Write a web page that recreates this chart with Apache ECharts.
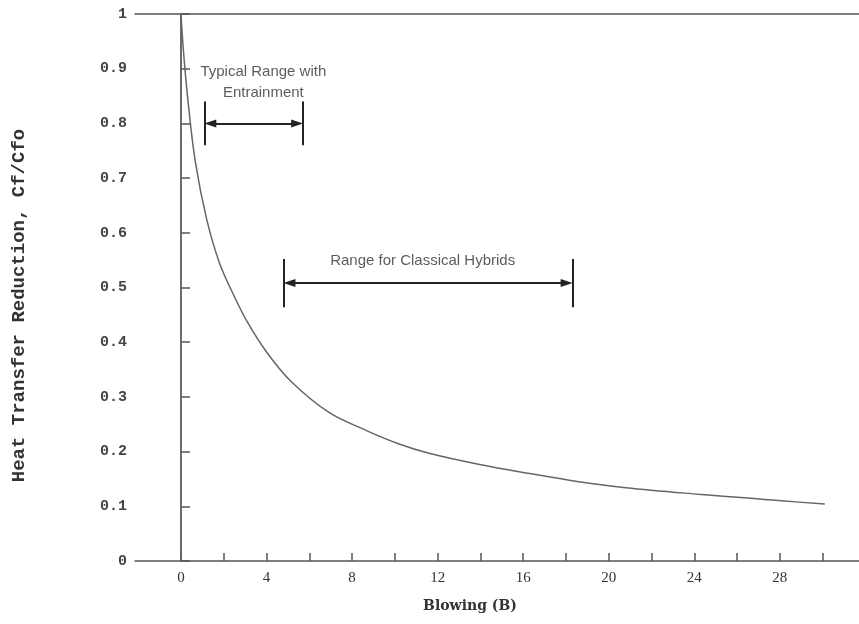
<!DOCTYPE html>
<html>
<head>
<meta charset="utf-8">
<script src="https://cdn.jsdelivr.net/npm/echarts@6/dist/echarts.min.js"></script>
<style>
  html, body { margin: 0; padding: 0; background: #fff; }
  #chart { width: 859px; height: 624px; }
</style>
</head>
<body>
<div id="chart"></div>
<script>
// curve: blowing B vs Cf/Cfo
const blowing = [0, 0.12, 0.33, 0.67, 1.2, 1.8, 2.5, 3.1, 4.0, 5.1, 6.9, 8.7, 10.2, 11.6, 13.9, 16.3, 18.6, 20.8, 24.2, 26.5, 28.1, 30.1];
const cfRatio = [1.0, 0.93, 0.84, 0.73, 0.625, 0.545, 0.483, 0.437, 0.382, 0.33, 0.272, 0.238, 0.214, 0.197, 0.177, 0.16, 0.145, 0.134, 0.122, 0.115, 0.110, 0.104];

const xTicks = [0, 2, 4, 6, 8, 10, 12, 14, 16, 18, 20, 22, 24, 26, 28, 30];
const xLabels = [0, 4, 8, 12, 16, 20, 24, 28];

// [left B, right B, level, half bar height]
const entrainRange = [1.1, 5.7, 0.80, 0.04];
const hybridRange = [4.8, 18.3, 0.508, 0.044];

const notes = [
  { text: 'Typical Range with\nEntrainment', at: [3.85, 0.875] },
  { text: 'Range for Classical Hybrids', at: [11.3, 0.548] }
];

const chart = echarts.init(document.getElementById('chart'));

// arrow heads are centred on the end point, so pull them in to touch the bars
const headInset = 0.27;

function rangeLines(r) {
  const [a, b, y, h] = r;
  return [
    [{ coord: [a + headInset, y], symbol: 'triangle' }, { coord: [b - headInset, y], symbol: 'triangle' }],
    [{ coord: [a, y + h] }, { coord: [a, y - h] }],
    [{ coord: [b, y + h] }, { coord: [b, y - h] }]
  ];
}

const ink = '#555';

chart.setOption({
  backgroundColor: '#fff',
  animation: false,
  grid: { left: 135, right: 0, top: 14, bottom: 63 },
  xAxis: [{
    type: 'value',
    min: -2.15,
    max: 31.7,
    name: 'Blowing (B)',
    nameLocation: 'middle',
    nameGap: 38,
    nameTextStyle: { fontFamily: 'DejaVu Serif', fontSize: 14, fontWeight: 'bold', color: '#333', padding: [0, 54, 0, 0] },
    axisLine: { lineStyle: { color: ink, width: 1.5 } },
    axisTick: { show: true, inside: true, length: 8, customValues: xTicks, lineStyle: { color: ink, width: 1.5 } },
    axisLabel: { customValues: xLabels, margin: 10, fontFamily: 'Liberation Serif', fontSize: 15, color: '#333' },
    splitLine: { show: false }
  }, {
    type: 'value',
    position: 'top',
    min: -2.15,
    max: 31.7,
    axisLine: { show: true, lineStyle: { color: ink, width: 1.5 } },
    axisTick: { show: false },
    axisLabel: { show: false },
    splitLine: { show: false }
  }],
  yAxis: {
    type: 'value',
    min: 0,
    max: 1,
    interval: 0.1,
    name: 'Heat Transfer Reduction, Cf/Cfo',
    nameLocation: 'middle',
    nameGap: 106,
    nameTextStyle: { fontFamily: 'Liberation Mono', fontSize: 19, fontWeight: 'bold', color: '#333', padding: [0, 36, 0, 0] },
    axisLine: { show: true, lineStyle: { color: ink, width: 1.5 } },
    axisTick: { show: true, inside: true, length: 9, lineStyle: { color: ink, width: 1.5 } },
    axisLabel: { margin: 8, fontFamily: 'Liberation Mono', fontSize: 15, fontWeight: 'bold', color: '#444' },
    splitLine: { show: false }
  },
  series: [{
    type: 'line',
    data: blowing.map((b, i) => [b, cfRatio[i]]),
    smooth: 0.35,
    showSymbol: false,
    lineStyle: { color: '#666', width: 1.5 },
    markLine: {
      silent: true,
      symbol: ['none', 'none'],
      label: { show: false },
      lineStyle: { color: '#666', width: 1.5, type: 'solid' },
      data: [{ xAxis: 0 }]
    }
  }, {
    type: 'line',
    data: [],
    markLine: {
      silent: true,
      symbol: ['none', 'none'],
      symbolSize: [8, 12],
      label: { show: false },
      lineStyle: { color: '#222', width: 2, type: 'solid' },
      itemStyle: { color: '#222' },
      data: rangeLines(entrainRange).concat(rangeLines(hybridRange))
    }
  }, {
    type: 'scatter',
    symbolSize: 0,
    silent: true,
    data: notes.map(n => ({ value: n.at, name: n.text })),
    label: {
      show: true,
      position: 'inside',
      formatter: p => p.name,
      fontFamily: 'Liberation Sans',
      fontSize: 15,
      lineHeight: 21,
      color: '#333'
    }
  }]
});
</script>
</body>
</html>
